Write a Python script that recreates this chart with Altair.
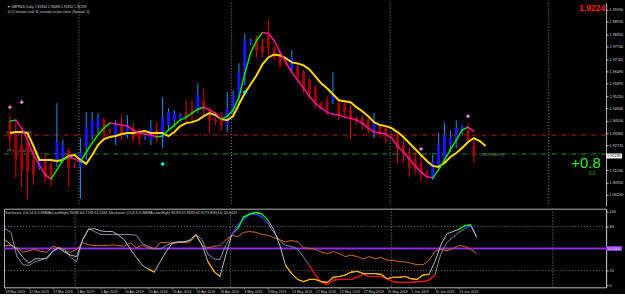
import altair as alt
import pandas as pd
import numpy as np

# ---------------- data ----------------
date_labels = ["18 Mar 2019", "22 Mar 2019", "27 Mar 2019", "1 Apr 2019", "5 Apr 2019",
               "10 Apr 2019", "15 Apr 2019", "19 Apr 2019", "24 Apr 2019", "29 Apr 2019",
               "3 May 2019", "8 May 2019", "13 May 2019", "17 May 2019", "22 May 2019",
               "27 May 2019", "31 May 2019", "5 Jun 2019", "10 Jun 2019", "14 Jun 2019"]
date_label_bars = [0, 4, 8, 12, 16, 20, 24, 28, 32, 36, 40, 44, 48, 52, 56, 60, 64, 68, 72, 76]
month_sep_bars = [12, 38, 65, 92]

bar_open = [1.9394, 1.9329, 1.9279, 1.9294, 1.9204, 1.9164, 1.9204, 1.9179, 1.9194, 1.9204,
            1.9254, 1.9179, 1.9169, 1.9269, 1.9329, 1.9364, 1.9404, 1.9354, 1.9329, 1.9379,
            1.9329, 1.9364, 1.9344, 1.9314, 1.9304, 1.9354, 1.9314, 1.9379, 1.9404, 1.9414,
            1.9444, 1.9464, 1.9454, 1.9504, 1.9454, 1.9404, 1.9414, 1.9379, 1.9454, 1.9514,
            1.9629, 1.9794, 1.9814, 1.9779, 1.9829, 1.9769, 1.9729, 1.9694, 1.9664, 1.9674,
            1.9644, 1.9604, 1.9564, 1.9489, 1.9504, 1.9504, 1.9489, 1.9479, 1.9464, 1.9414,
            1.9414, 1.9404, 1.9354, 1.9374, 1.9364, 1.9334, 1.9324, 1.9279, 1.9244, 1.9214,
            1.9189, 1.9144, 1.9114, 1.9179, 1.9204, 1.9279, 1.9304, 1.9354, 1.9354, 1.9279]
bar_high = [1.9429, 1.9404, 1.9354, 1.9329, 1.9254, 1.9219, 1.9229, 1.9204, 1.9489, 1.9304,
            1.9264, 1.9189, 1.9314, 1.9444, 1.9444, 1.9439, 1.9419, 1.9364, 1.9404, 1.9429,
            1.9429, 1.9389, 1.9364, 1.9324, 1.9404, 1.9394, 1.9519, 1.9464, 1.9454, 1.9439,
            1.9504, 1.9504, 1.9589, 1.9564, 1.9469, 1.9414, 1.9444, 1.9544, 1.9554, 1.9689,
            1.9839, 1.9814, 1.9829, 1.9814, 1.9904, 1.9779, 1.9744, 1.9704, 1.9754, 1.9684,
            1.9654, 1.9619, 1.9579, 1.9499, 1.9524, 1.9644, 1.9504, 1.9504, 1.9479, 1.9424,
            1.9429, 1.9419, 1.9439, 1.9379, 1.9369, 1.9344, 1.9344, 1.9304, 1.9264, 1.9244,
            1.9229, 1.9154, 1.9229, 1.9339, 1.9389, 1.9354, 1.9404, 1.9379, 1.9389, 1.9314]
bar_low = [1.9254, 1.9114, 1.9069, 1.9004, 1.9079, 1.9154, 1.9089, 1.9074, 1.9169, 1.9189,
           1.9069, 1.9164, 1.9009, 1.9204, 1.9304, 1.9339, 1.9294, 1.9334, 1.9279, 1.9304,
           1.9314, 1.9294, 1.9279, 1.9304, 1.9279, 1.9294, 1.9264, 1.9354, 1.9369, 1.9404,
           1.9394, 1.9389, 1.9439, 1.9419, 1.9339, 1.9379, 1.9354, 1.9344, 1.9414, 1.9494,
           1.9579, 1.9779, 1.9719, 1.9719, 1.9729, 1.9704, 1.9664, 1.9674, 1.9644, 1.9594,
           1.9539, 1.9514, 1.9464, 1.9464, 1.9429, 1.9484, 1.9404, 1.9414, 1.9304, 1.9384,
           1.9354, 1.9339, 1.9314, 1.9314, 1.9289, 1.9314, 1.9189, 1.9189, 1.9119, 1.9129,
           1.9094, 1.9124, 1.9104, 1.9154, 1.9194, 1.9244, 1.9264, 1.9334, 1.9289, 1.9189]
bar_close = [1.9304, 1.9204, 1.9154, 1.9144, 1.9129, 1.9204, 1.9114, 1.9104, 1.9294, 1.9279,
             1.9164, 1.9174, 1.9239, 1.9369, 1.9404, 1.9414, 1.9339, 1.9344, 1.9379, 1.9329,
             1.9379, 1.9314, 1.9304, 1.9319, 1.9364, 1.9314, 1.9414, 1.9444, 1.9439, 1.9429,
             1.9414, 1.9429, 1.9529, 1.9454, 1.9404, 1.9394, 1.9379, 1.9464, 1.9529, 1.9644,
             1.9804, 1.9804, 1.9754, 1.9744, 1.9764, 1.9719, 1.9679, 1.9689, 1.9714, 1.9614,
             1.9564, 1.9539, 1.9494, 1.9474, 1.9454, 1.9529, 1.9429, 1.9444, 1.9404, 1.9394,
             1.9379, 1.9364, 1.9394, 1.9344, 1.9324, 1.9324, 1.9254, 1.9229, 1.9164, 1.9154,
             1.9129, 1.9134, 1.9194, 1.9279, 1.9329, 1.9314, 1.9364, 1.9369, 1.9304, 1.9224]

fast_ma = [1.9399, 1.9404, 1.9364, 1.9304, 1.9229, 1.9179, 1.9129, 1.9109, 1.9154, 1.9204,
           1.9219, 1.9209, 1.9194, 1.9244, 1.9289, 1.9329, 1.9364, 1.9389, 1.9384, 1.9379,
           1.9374, 1.9354, 1.9339, 1.9334, 1.9329, 1.9319, 1.9324, 1.9354, 1.9379, 1.9404,
           1.9419, 1.9439, 1.9459, 1.9469, 1.9454, 1.9439, 1.9409, 1.9424, 1.9454, 1.9519,
           1.9639, 1.9744, 1.9804, 1.9844, 1.9839, 1.9804, 1.9744, 1.9694, 1.9644, 1.9604,
           1.9564, 1.9524, 1.9489, 1.9464, 1.9444, 1.9434, 1.9429, 1.9419, 1.9414, 1.9404,
           1.9389, 1.9364, 1.9344, 1.9339, 1.9334, 1.9314, 1.9274, 1.9244, 1.9209, 1.9174,
           1.9144, 1.9119, 1.9114, 1.9154, 1.9204, 1.9254, 1.9304, 1.9354, 1.9369, 1.9349]
slow_ma = [1.9339, 1.9344, 1.9344, 1.9339, 1.9274, 1.9204, 1.9204, 1.9204, 1.9199, 1.9204,
           1.9224, 1.9229, 1.9204, 1.9184, 1.9229, 1.9279, 1.9309, 1.9319, 1.9324, 1.9334,
           1.9339, 1.9339, 1.9344, 1.9349, 1.9339, 1.9339, 1.9339, 1.9324, 1.9344, 1.9374,
           1.9389, 1.9394, 1.9404, 1.9424, 1.9439, 1.9429, 1.9409, 1.9404, 1.9424, 1.9484,
           1.9539, 1.9584, 1.9629, 1.9684, 1.9719, 1.9734, 1.9729, 1.9714, 1.9694, 1.9689,
           1.9679, 1.9659, 1.9624, 1.9589, 1.9564, 1.9534, 1.9504, 1.9499, 1.9494, 1.9469,
           1.9449, 1.9424, 1.9394, 1.9379, 1.9374, 1.9364, 1.9344, 1.9319, 1.9289, 1.9259,
           1.9229, 1.9199, 1.9174, 1.9169, 1.9189, 1.9219, 1.9239, 1.9264, 1.9294, 1.9314,
           1.9299, 1.9274]

stoch_a = [77, 72, 39, 28, 27, 32, 34, 38, 47, 51,
           49, 38, 32, 62, 77, 73, 69, 69, 69, 69,
           69, 69, 68, 57, 53, 50, 49, 54, 58, 59,
           59, 62, 69, 62, 42, 36, 35, 55, 69, 82,
           90, 96, 97, 93, 85, 72, 61, 54, 53, 49,
           38, 27, 14, 4, 1, 7, 8, 8, 8, 11,
           15, 12, 12, 12, 9, 5, 4, 4, 4, 5,
           5, 7, 14, 43, 58, 65, 72, 77, 81, 65]
stoch_b = [62, 55, 49, 38, 30, 36, 36, 36, 46, 51,
           45, 41, 39, 62, 76, 77, 74, 73, 73, 68,
           62, 49, 38, 27, 22, 18, 32, 46, 57, 59,
           59, 61, 69, 55, 32, 19, 12, 42, 69, 77,
           93, 97, 99, 97, 89, 76, 55, 27, 16, 8,
           5, 8, 8, 5, 4, 11, 12, 14, 18, 19,
           16, 16, 16, 15, 9, 11, 11, 12, 9, 8,
           14, 15, 32, 55, 70, 73, 76, 81, 82, 66]
rsi = [54, 54, 51, 45, 47, 49, 46, 45, 53, 51,
       46, 45, 49, 58, 55, 54, 54, 54, 55, 54,
       53, 58, 51, 55, 51, 49, 58, 58, 57, 58,
       58, 59, 68, 54, 51, 53, 54, 62, 68, 66,
       72, 73, 72, 69, 68, 65, 62, 59, 61, 59,
       51, 50, 49, 45, 43, 46, 43, 39, 41, 39,
       36, 39, 36, 38, 34, 34, 32, 32, 30, 28,
       28, 34, 46, 49, 47, 50, 54, 53, 49, 43]

price_ticks = [1.9959, 1.9897, 1.9835, 1.9773, 1.9711, 1.9649, 1.9587, 1.9525, 1.9463,
               1.9401, 1.9339, 1.9277, 1.9153, 1.9091, 1.9029]
osc_ticks = [0, 20, 80, 100]
osc_levels = [20, 80]
pivot_levels = [1.9329, 1.9234]
pivot_colors = ["#b41c1c", "#1f9a1f"]
pivot_texts = ["R1 1.9 (1.93290)", "PP 1.9 (1.92340)"]
marker_bars = [0, 2, 70, 78, 26, 40]
marker_prices = [1.9469, 1.9494, 1.9259, 1.9424, 1.9184, 1.9544]
marker_colors = ["#ff69b4", "#ee82ee", "#ee82ee", "#ee82ee", "#00ffff", "#00ffff"]
current_price = 1.92239
bid_note_bar = 80
bid_note_text = "1.92239 (0.0%)"

title_1 = "\u25bc GBPNZD,Daily  1.92944 1.93096 1.91842 1.92239"
title_2 = "-4:17 minutes and 35 seconds to bar close. [Spread: 5]"
osc_title = ("Stochastic (OL14,3,3,SMMA,Low/High) 86.88 64.7138 64.1184   "
             "Stochastic (OL8,3,3,SMMA,Low/High) 86.88 67.8883 62.9273   RSI(14) 42.5443")

# ---------------- tables ----------------
FONT = "Liberation Sans"
N = len(bar_close)
idx = list(range(N))

candles = pd.DataFrame({"i": idx, "open": bar_open, "high": bar_high,
                        "low": bar_low, "close": bar_close})
bull = candles["close"] >= candles["open"]
candles["wick_c"] = np.where(bull, "#1e90ff", "#e00000")
candles["body_c"] = np.where(bull, "#1414ff", "#a00000")

fast_seg = pd.DataFrame({"i": idx[:-1], "i2": idx[1:], "v": fast_ma[:-1], "v2": fast_ma[1:]})
fast_seg["c"] = np.where(fast_seg["v2"] >= fast_seg["v"], "#00e600", "#ff1493")

slow_df = pd.DataFrame({"i": list(range(len(slow_ma))), "v": slow_ma})


def zone_segments(vals, low_c, high_c):
    rows = []
    for k in range(len(vals) - 1):
        b = vals[k + 1]
        if b < 20:
            c = low_c
        elif b > 80:
            c = high_c
        else:
            continue
        rows.append({"i": k, "i2": k + 1, "v": vals[k], "v2": b, "c": c})
    return pd.DataFrame(rows)


seg_a = zone_segments(stoch_a, "#ff0000", "#1e3cff")
seg_b = zone_segments(stoch_b, "#ffb000", "#00ff00")
osc = pd.DataFrame({"i": idx, "a": stoch_a, "b": stoch_b, "r": rsi})

# ---------------- scales / axes ----------------
xs = alt.Scale(domain=[-1 / 6, 100.6667], nice=False, zero=False)
ys_main = alt.Scale(domain=[1.8974, 1.9994], nice=False, zero=False)
ys_low = alt.Scale(domain=[-2.7, 104.05], nice=False, zero=False)

main_axis = alt.Axis(orient="right", values=price_ticks, format=".5f", labelFontSize=3.8,
                     labelColor="#d8d8d8", labelFont=FONT, tickSize=2, tickColor="#b0b0b0",
                     domainColor="#b8b8b8", labelPadding=1, grid=False, labelOverlap=False,
                     labelFlush=False, title=None)
low_axis = alt.Axis(orient="right", values=osc_ticks, labelFontSize=3.8, labelColor="#d8d8d8",
                    labelFont=FONT, tickSize=2, tickColor="#b0b0b0", domainColor="#b8b8b8",
                    labelPadding=1, grid=False, labelOverlap=False, labelFlush=False, title=None)
label_expr = "[" + ",".join("'" + s + "'" for s in date_labels) + "][round(datum.value/4)]"
x_axis = alt.Axis(orient="bottom", values=date_label_bars, labelExpr=label_expr,
                  labelAlign="left", labelBaseline="top", labelFontSize=3.5,
                  labelColor="#d0d0d0", labelFont=FONT, tickSize=1.5, tickColor="#909090",
                  domain=False, labelPadding=0.5, grid=False, labelOverlap=False,
                  labelFlush=False, labelBound=False, title=None)


def XM(f):
    return alt.X(f"{f}:Q", scale=xs, axis=None, title=None)


def YM(f):
    return alt.Y(f"{f}:Q", scale=ys_main, axis=main_axis, title=None)


def XL(f):
    return alt.X(f"{f}:Q", scale=xs, axis=x_axis, title=None)


def YL(f):
    return alt.Y(f"{f}:Q", scale=ys_low, axis=low_axis, title=None)


# ---------------- main panel ----------------
sep_df = pd.DataFrame({"i": month_sep_bars})
piv_df = pd.DataFrame({"p": pivot_levels, "c": pivot_colors, "t": pivot_texts})
mk_df = pd.DataFrame({"i": marker_bars, "p": marker_prices, "c": marker_colors})
cur_df = pd.DataFrame({"p": [current_price], "t": ["%.5f" % current_price]})
note_df = pd.DataFrame({"i": [bid_note_bar], "p": [pivot_levels[1]], "t": [bid_note_text]})

seps_main = alt.Chart(sep_df).mark_rule(color="#8c8c8c", strokeDash=[1, 2], strokeWidth=1,
                                        xOffset=-1.5).encode(x=XM("i"))
pivots = alt.Chart(piv_df).mark_rule(strokeDash=[5, 2, 1, 2], strokeWidth=1).encode(
    y=YM("p"), color=alt.Color("c:N", scale=None))
pivot_lbl = alt.Chart(piv_df).mark_text(align="left", baseline="bottom", fontSize=3.4,
                                        color="#9a9a9a", font=FONT, dy=-0.5).encode(
    x=alt.value(3), y=YM("p"), text="t:N")
note = alt.Chart(note_df).mark_text(align="left", baseline="middle", fontSize=3.6,
                                    color="#8a8a8a", font=FONT, dy=1).encode(
    x=XM("i"), y=YM("p"), text="t:N")
wicks = alt.Chart(candles).mark_rule(strokeWidth=1).encode(
    x=XM("i"), y=YM("low"), y2="high:Q", color=alt.Color("wick_c:N", scale=None))
bodies = alt.Chart(candles).mark_bar(size=3).encode(
    x=XM("i"), y=YM("open"), y2="close:Q", color=alt.Color("body_c:N", scale=None))
slow_line = alt.Chart(slow_df).mark_line(color="#ffd700", strokeWidth=2).encode(
    x=XM("i"), y=YM("v"))
fast_line = alt.Chart(fast_seg).mark_rule(strokeWidth=1.5, strokeCap="round").encode(
    x=XM("i"), x2="i2:Q", y=YM("v"), y2="v2:Q", color=alt.Color("c:N", scale=None))
markers = alt.Chart(mk_df).mark_point(shape="cross", filled=True, size=14, opacity=1).encode(
    x=XM("i"), y=YM("p"), color=alt.Color("c:N", scale=None))
cur_box = alt.Chart(cur_df).mark_rule(color="#ffffff", strokeWidth=5).encode(
    x=alt.value(605), x2=alt.value(621), y=YM("p"))
cur_txt = alt.Chart(cur_df).mark_text(align="left", baseline="middle", fontSize=3.8,
                                      color="#000000", font=FONT).encode(
    x=alt.value(606), y=YM("p"), text="t:N")

t1 = alt.Chart(pd.DataFrame({"t": [title_1]})).mark_text(
    align="left", baseline="top", fontSize=3.4, color="#d0d0d0", font=FONT).encode(
    x=alt.value(3), y=alt.value(2), text="t:N")
t2 = alt.Chart(pd.DataFrame({"t": [title_2]})).mark_text(
    align="left", baseline="top", fontSize=3.4, color="#d0d0d0", font=FONT).encode(
    x=alt.value(3), y=alt.value(7), text="t:N")
big_price = alt.Chart(pd.DataFrame({"t": ["1.9224"]})).mark_text(
    align="right", baseline="top", fontSize=8.5, fontWeight="bold", color="#ff1a1a",
    font=FONT).encode(x=alt.value(604), y=alt.value(1), text="t:N")
big_change = alt.Chart(pd.DataFrame({"t": ["+0.8"]})).mark_text(
    align="left", baseline="alphabetic", fontSize=15, color="#2ee82e", font=FONT).encode(
    x=alt.value(570), y=alt.value(166), text="t:N")
small_change = alt.Chart(pd.DataFrame({"t": ["0.0"]})).mark_text(
    align="center", baseline="alphabetic", fontSize=5, color="#1fb01f", font=FONT).encode(
    x=alt.value(591), y=alt.value(173), text="t:N")

main = alt.layer(seps_main, pivots, pivot_lbl, note, wicks, bodies, slow_line, fast_line,
                 markers, cur_box, cur_txt, t1, t2, big_price, big_change,
                 small_change).properties(width=605, height=204)

# ---------------- oscillator panel ----------------
lv_df = pd.DataFrame({"v": osc_levels})
mid_df = pd.DataFrame({"v": [50], "t": ["50.0000"]})

seps_low = alt.Chart(sep_df).mark_rule(color="#8c8c8c", strokeDash=[1, 2], strokeWidth=1,
                                       xOffset=-1.5).encode(x=XL("i"))
levels = alt.Chart(lv_df).mark_rule(color="#7a7a7a", strokeDash=[1, 2], strokeWidth=1).encode(
    y=YL("v"))
mid = alt.Chart(mid_df).mark_rule(color="#8a2be2", strokeWidth=2).encode(y=YL("v"))
rsi_line = alt.Chart(osc).mark_line(color="#d2691e", strokeWidth=1).encode(x=XL("i"), y=YL("r"))
a_line = alt.Chart(osc).mark_line(color="#7d8da0", strokeWidth=1).encode(x=XL("i"), y=YL("a"))
b_line = alt.Chart(osc).mark_line(color="#b4bcc8", strokeWidth=1).encode(x=XL("i"), y=YL("b"))
a_zone = alt.Chart(seg_a).mark_rule(strokeWidth=1.2, strokeCap="round").encode(
    x=XL("i"), x2="i2:Q", y=YL("v"), y2="v2:Q", color=alt.Color("c:N", scale=None))
b_zone = alt.Chart(seg_b).mark_rule(strokeWidth=1.2, strokeCap="round").encode(
    x=XL("i"), x2="i2:Q", y=YL("v"), y2="v2:Q", color=alt.Color("c:N", scale=None))
mid_box = alt.Chart(mid_df).mark_rule(color="#8a2be2", strokeWidth=5).encode(
    x=alt.value(605), x2=alt.value(621), y=YL("v"))
mid_txt = alt.Chart(mid_df).mark_text(align="left", baseline="middle", fontSize=3.8,
                                      color="#ffffff", font=FONT).encode(
    x=alt.value(606), y=YL("v"), text="t:N")
osc_t = alt.Chart(pd.DataFrame({"t": [osc_title]})).mark_text(
    align="left", baseline="top", fontSize=3.7, color="#d0d0d0", font=FONT).encode(
    x=alt.value(1), y=alt.value(2), text="t:N")

lower = alt.layer(seps_low, levels, mid, rsi_line, a_line, b_line, a_zone, b_zone,
                  mid_box, mid_txt, osc_t).properties(
    width=605, height=79, view=alt.ViewBackground(stroke="#b4b4b4", strokeWidth=1))

chart = alt.vconcat(main, lower, spacing=1).properties(
    padding={"left": 2, "top": 1, "right": 0, "bottom": 0},
    background="#000000",
).configure_view(stroke=None)

chart.save("out.html", embed_options={"renderer": "svg", "actions": False})
